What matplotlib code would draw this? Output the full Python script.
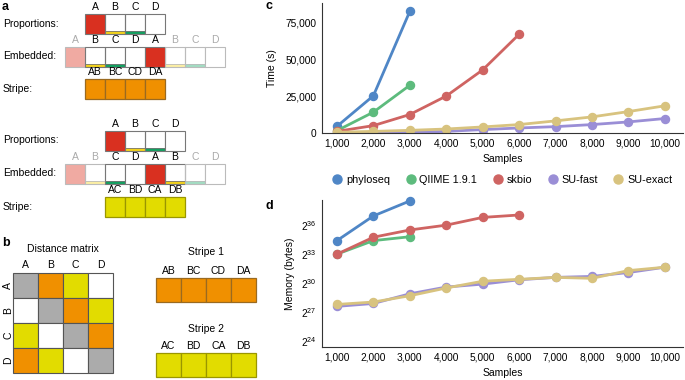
import matplotlib

matplotlib.use("Agg")
import matplotlib.pyplot as plt  # noqa: E402
from matplotlib.patches import Rectangle  # noqa: E402
from matplotlib.lines import Line2D  # noqa: E402
from matplotlib.ticker import FuncFormatter, FixedLocator  # noqa: E402
import numpy as np  # noqa: E402

plt.rcParams["font.family"] = ["Liberation Sans", "DejaVu Sans"]

# ---- data: panel c (time) and panel d (memory) ----
SAMPLES = [1000, 2000, 3000, 4000, 5000, 6000, 7000, 8000, 9000, 10000]
METHODS = ["phyloseq", "QIIME 1.9.1", "skbio", "SU-fast", "SU-exact"]
COLORS = ["#4f86c6", "#5dbb7d", "#cf6462", "#9a8ed6", "#d8c37f"]

time_phyloseq = [4500, 25200, 82300]
time_qiime = [1600, 14100, 32300]
time_skbio = [1100, 5000, 12500, 25000, 42700, 66800]
time_sufast = [100, 200, 400, 1100, 2300, 3400, 4300, 5700, 7500, 9800]
time_suexact = [500, 1100, 1800, 2700, 4100, 5700, 8200, 10900, 14500, 18400]
time_err = [[0, 0, 0], [0, 0, 2500], [0, 0, 0, 0, 0, 0],
            [0] * 10, [0] * 10]

# memory as log2(bytes)
mem_phyloseq = [34.4, 36.95, 38.5]
mem_qiime = [33.0, 34.4, 34.8]
mem_skbio = [33.0, 34.75, 35.5, 36.0, 36.8, 37.05]
mem_sufast = [27.6, 27.9, 28.9, 29.6, 29.9, 30.35, 30.6, 30.7, 31.1, 31.65]
mem_suexact = [27.8, 28.05, 28.7, 29.5, 30.2, 30.4, 30.6, 30.5, 31.3, 31.65]
mem_err = [[0.4, 0.3, 0.3], [0.1, 0.2, 0.3], [0.1, 0.2, 0.2, 0.3, 0.1, 0.2],
           [0.2, 0.2, 0.2, 0.2, 0.2, 0.2, 0.1, 0.3, 0.3, 0.1],
           [0.1, 0.1, 0.3, 0.3, 0.2, 0.2, 0.1, 0.2, 0.1, 0.1]]

times = [time_phyloseq, time_qiime, time_skbio, time_sufast, time_suexact]
mems = [mem_phyloseq, mem_qiime, mem_skbio, mem_sufast, mem_suexact]

# ---- schematic content (panels a, b) ----
RED, RED_L = "#d93020", "#f0aaa2"
YEL_S, YEL_SL = "#f2d21c", "#fbeea4"
GRN_S, GRN_SL = "#13a060", "#a2dcc2"
ORANGE, ORANGE_E = "#f09000", "#9a6a20"
YELLOW, YELLOW_E = "#e2dc00", "#9a9600"
GRAY = "#aaaaaa"

W, H = 685, 380
fig = plt.figure(figsize=(W / 100, H / 100), dpi=100, facecolor="white")
sk = fig.add_axes([0, 0, 1, 1])
sk.set_xlim(0, W)
sk.set_ylim(H, 0)
sk.axis("off")

FS = 7.5


def cell(x, y, w, h, kind, edge="#777777"):
    # kind: None, 'red', 'redl', 'yel', 'yell', 'grn', 'grnl'
    fill = {"red": RED, "redl": RED_L}.get(kind, "white")
    strip = {"yel": YEL_S, "yell": YEL_SL, "grn": GRN_S, "grnl": GRN_SL}.get(kind)
    if strip:
        sk.add_patch(Rectangle((x, y + h - 3.5), w, 3.5, facecolor=strip,
                               edgecolor="none"))
        sk.plot([x, x + w], [y + h - 3.5] * 2, color=edge, lw=0.6)
    sk.add_patch(Rectangle((x, y), w, h, facecolor=fill if not strip else "none",
                           edgecolor=edge, lw=0.8))


def row_of_cells(x0, y0, kinds, labels, label_cols, cw=20, ch=20):
    for i, (k, lab, lc) in enumerate(zip(kinds, labels, label_cols)):
        faded = lc != "black"
        cell(x0 + i * cw, y0, cw, ch, k, edge="#bbbbbb" if faded else "#777777")
        sk.text(x0 + i * cw + cw / 2, y0 - 2, lab, ha="center", va="bottom",
                fontsize=FS, color=lc)


def stripe(x0, y0, labels, fc, ec, cw=20, ch=20):
    for i, lab in enumerate(labels):
        sk.add_patch(Rectangle((x0 + i * cw, y0), cw, ch, facecolor=fc,
                               edgecolor=ec, lw=0.9))
        sk.text(x0 + i * cw + cw / 2, y0 - 2, lab, ha="center", va="bottom",
                fontsize=FS)


g, k = GRAY, "black"
sk.text(2, 7, "a", fontsize=9, fontweight="bold", va="center")
# stripe 1 block
sk.text(3, 24, "Proportions:", fontsize=FS, va="center")
row_of_cells(85, 14, ["red", "yel", "grn", None], list("ABCD"), [k] * 4)
sk.text(3, 56, "Embedded:", fontsize=FS, va="center")
row_of_cells(65, 47, ["redl", "yel", "grn", None, "red", "yell", "grnl", None],
             list("ABCDABCD"), [g, k, k, k, k, g, g, g])
sk.text(3, 89, "Stripe:", fontsize=FS, va="center")
stripe(85, 79, ["AB", "BC", "CD", "DA"], ORANGE, ORANGE_E)
# stripe 2 block
sk.text(3, 140, "Proportions:", fontsize=FS, va="center")
row_of_cells(105, 131, ["red", "yel", "grn", None], list("ABCD"), [k] * 4)
sk.text(3, 173, "Embedded:", fontsize=FS, va="center")
row_of_cells(65, 164, ["redl", "yell", "grn", None, "red", "yel", "grnl", None],
             list("ABCDABCD"), [g, g, k, k, k, k, g, g])
sk.text(3, 207, "Stripe:", fontsize=FS, va="center")
stripe(105, 197, ["AC", "BD", "CA", "DB"], YELLOW, YELLOW_E)

# panel b
sk.text(2, 243, "b", fontsize=9, fontweight="bold", va="center")
sk.text(63, 249, "Distance matrix", fontsize=FS, ha="center", va="center")
MATRIX = [["gray", "orange", "yellow", "white"],
          ["white", "gray", "orange", "yellow"],
          ["yellow", "white", "gray", "orange"],
          ["orange", "yellow", "white", "gray"]]
cmap = {"gray": "#ababab", "orange": ORANGE, "yellow": YELLOW, "white": "white"}
mx, my, cs = 13, 273, 25
for r, rowv in enumerate(MATRIX):
    for c, v in enumerate(rowv):
        sk.add_patch(Rectangle((mx + c * cs, my + r * cs), cs, cs,
                               facecolor=cmap[v], edgecolor="#555555", lw=0.8))
for i, lab in enumerate("ABCD"):
    sk.text(mx + i * cs + cs / 2, my - 3, lab, ha="center", va="bottom", fontsize=FS)
    sk.text(mx - 5, my + i * cs + cs / 2, lab, ha="center", va="center",
            fontsize=FS, rotation=90)
sk.text(206, 252, "Stripe 1", fontsize=FS, ha="center", va="center")
stripe(156, 278, ["AB", "BC", "CD", "DA"], ORANGE, ORANGE_E, cw=25, ch=24)
sk.text(206, 329, "Stripe 2", fontsize=FS, ha="center", va="center")
stripe(156, 353, ["AC", "BD", "CA", "DB"], YELLOW, YELLOW_E, cw=25, ch=24)


# ---- panels c and d ----
def frac(x0, y0, x1, y1):
    return [x0 / W, 1 - y1 / H, (x1 - x0) / W, (y1 - y0) / H]


axc = fig.add_axes(frac(322, 3, 683, 133))
axd = fig.add_axes(frac(322, 200, 683, 347))

for ax in (axc, axd):
    for s in ("top", "right"):
        ax.spines[s].set_visible(False)
    for s in ("left", "bottom"):
        ax.spines[s].set_color("#333333")
        ax.spines[s].set_linewidth(0.8)
    ax.tick_params(length=0, labelsize=7.3, pad=4)
    ax.set_xlim(590, 10500)
    ax.set_xticks(SAMPLES)
    ax.set_xticklabels([f"{s:,}" for s in SAMPLES])
    ax.set_xlabel("Samples", fontsize=7.5, labelpad=4)

for name, col, t, te, m, me in zip(METHODS, COLORS, times, time_err, mems, mem_err):
    xs = SAMPLES[:len(t)]
    axc.errorbar(xs, t, yerr=te, color=col, lw=2, marker="o", ms=5.8,
                 elinewidth=1.5, capsize=0)
    mb = 2.0 ** np.array(m)
    lo = mb - 2.0 ** (np.array(m) - np.array(me))
    hi = 2.0 ** (np.array(m) + np.array(me)) - mb
    ln, caps, bars = axd.errorbar(xs, mb, yerr=[lo, hi], color=col, lw=2,
                                  marker="o", ms=5.8, elinewidth=1.2, capsize=0)
    ln.set_clip_on(False)

axc.set_ylim(0, 88000)
axc.set_yticks([0, 25000, 50000, 75000])
axc.yaxis.set_major_formatter(FuncFormatter(lambda v, p: f"{int(v):,}"))
axc.set_ylabel("Time (s)", fontsize=7.5, labelpad=6)

axd.set_yscale("log", base=2)
axd.set_ylim(2.0 ** 23.4, 2.0 ** 38.6)
axd.yaxis.set_major_locator(FixedLocator([2.0 ** e for e in (24, 27, 30, 33, 36)]))
axd.yaxis.set_minor_locator(FixedLocator([]))
axd.yaxis.set_major_formatter(
    FuncFormatter(lambda v, p: r"$\mathdefault{2^{%d}}$" % round(np.log2(v))))
axd.set_ylabel("Memory (bytes)", fontsize=7.5, labelpad=4)

sk.text(266, 6, "c", fontsize=9, fontweight="bold", va="center")
sk.text(266, 206, "d", fontsize=9, fontweight="bold", va="center")

handles = [Line2D([], [], ls="none", marker="o", ms=6.5, color=c) for c in COLORS]
fig.legend(handles, METHODS, loc="center", bbox_to_anchor=(502 / W, 1 - 180 / H),
           ncol=5, frameon=False, fontsize=7.8, handletextpad=0.3,
           handlelength=1.0, columnspacing=1.4)

fig.savefig("out.png", dpi=100)
